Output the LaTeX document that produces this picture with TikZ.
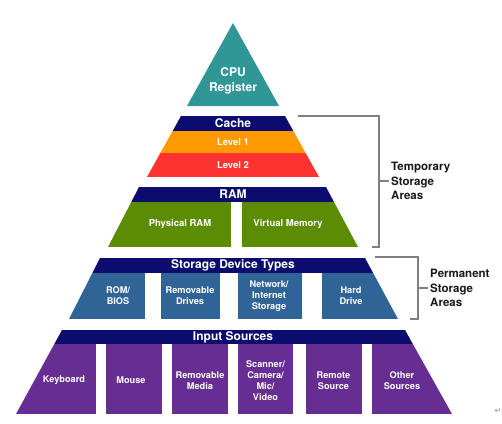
\documentclass[tikz,border=0pt]{standalone}
\usepackage{fontspec}
\setmainfont{TeX Gyre Heros}
\newfontfamily\symfont{DejaVu Sans}
\usepackage{xcolor}
\usetikzlibrary{positioning}
\definecolor{bandnavy}{RGB}{12,12,110}
\definecolor{cputeal}{RGB}{48,150,150}
\definecolor{cacheorange}{RGB}{255,153,0}
\definecolor{cachered}{RGB}{255,50,50}
\definecolor{ramgreen}{RGB}{92,140,4}
\definecolor{storeblue}{RGB}{48,100,150}
\definecolor{inputpurple}{RGB}{102,46,146}
\tikzset{
    tier label/.style={
        text=white,
        font=\bfseries\fontsize{12}{14.5}\selectfont,
        align=center,
        inner sep=1pt
    },
    level label/.style={
        text=white,
        font=\bfseries\fontsize{9.5}{11}\selectfont,
        align=center,
        inner sep=1pt
    },
    box label/.style={
        text=white,
        font=\bfseries\fontsize{9.2}{11}\selectfont,
        align=center,
        inner sep=1pt
    },
    side label/.style={
        text=black!90,
        font=\bfseries\fontsize{11.5}{14.5}\selectfont,
        align=left,
        anchor=west,
        inner sep=2pt
    },
    bracket/.style={
        draw=black!50,
        line width=1.3pt
    }
}

\begin{document}
\begin{tikzpicture}[x=1pt,y=-1pt]
          \useasboundingbox (0,0) rectangle (502,423);
          % CPU
          \fill[cputeal] (233,23) -- (279,106) -- (187,106) -- cycle;
          \node[tier label] (cpu) at (233,81) {CPU\\Register};
          % cache
          \begin{scope}
            \clip (181,116) -- (285,116) -- (319,177) -- (147,177) -- cycle;
            \fill[bandnavy] (140,116) rectangle (330,131);
            \fill[cacheorange] (140,131) rectangle (330,153);
            \fill[cachered] (140,153) rectangle (330,177);
          \end{scope}
          \node[tier label] (cache) at (233,123.5) {Cache};
          \node[level label] (lvl1) at (233,142) {Level 1};
          \node[level label] (lvl2) at (233,165) {Level 2};
          % RAM
          \begin{scope}
            \clip (139,187) -- (326,187) -- (358,247) -- (108,247) -- cycle;
            \fill[bandnavy] (100,187) rectangle (370,202);
            \fill[ramgreen] (100,202) rectangle (370,247);
            \fill[white] (231,202) rectangle (242,248);
          \end{scope}
          \node[tier label] (ram) at (233,194.5) {RAM};
          \node[level label] (phys) at (180,224) {Physical RAM};
          \node[level label] (virt) at (288,224) {Virtual Memory};
          % storage
          \begin{scope}
            \clip (100,258) -- (365,258) -- (398,319) -- (69,319) -- cycle;
            \fill[bandnavy] (60,258) rectangle (410,273);
            \fill[storeblue] (60,273) rectangle (410,319);
            \foreach \a/\b in {145/161,220/238,302/322}
              \fill[white] (\a,273) rectangle (\b,320);
          \end{scope}
          \node[tier label] (storage) at (233,265.5) {Storage Device Types};
          \foreach \n/\x/\t in {rom/118/{ROM/\\BIOS},drives/190/{Removable\\Drives},
                                net/269/{Network/\\Internet\\Storage},hdd/351/{Hard\\Drive}}
            \node[box label] (\n) at (\x,296) {\t};
          % input
          \begin{scope}
            \clip (62,330) -- (405,330) -- (452,414) -- (16,414) -- cycle;
            \fill[bandnavy] (10,330) rectangle (460,344);
            \fill[inputpurple] (10,344) rectangle (460,414);
            \foreach \a/\b in {96/106,162/172,228/238,293/306,362/372}
              \fill[white] (\a,344) rectangle (\b,415);
          \end{scope}
          \node[tier label] (input) at (233,337) {Input Sources};
          \foreach \n/\x/\t in {keyb/64/Keyboard,mouse/131/Mouse,media/200/{Removable\\Media},
                                scan/265.5/{Scanner/\\Camera/\\Mic/\\Video},
                                remote/333.5/{Remote\\Source},other/402/{Other\\Sources}}
            \node[box label] (\n) at (\x,380.5) {\t};

          % brackets
          \coordinate (tmpA) at (298,116);
          \coordinate (tmpB) at (379,116);
          \coordinate (tmpC) at (379,247);
          \coordinate (tmpD) at (372,247);
          \node[side label] (temp) at (389,181) {Temporary\\Storage\\Areas};
          \draw[bracket] (tmpA) -- (tmpB) -- (tmpC) -- (tmpD);
          \draw[bracket] (tmpB |- temp.west) -- (temp.west);

          \coordinate (perA) at (375,257);
          \coordinate (perB) at (418,257);
          \coordinate (perC) at (418,319);
          \coordinate (perD) at (410,319);
          \node[side label] (perm) at (428,288) {Permanent\\Storage\\Areas};
          \draw[bracket] (perA) -- (perB) -- (perC) -- (perD);
          \draw[bracket] (perB |- perm.west) -- (perm.west);

          \node[text=black!45, font=\symfont\fontsize{8}{8}\selectfont, inner sep=0pt] (eol) at (498,411) {↵};
\end{tikzpicture}
\end{document}
